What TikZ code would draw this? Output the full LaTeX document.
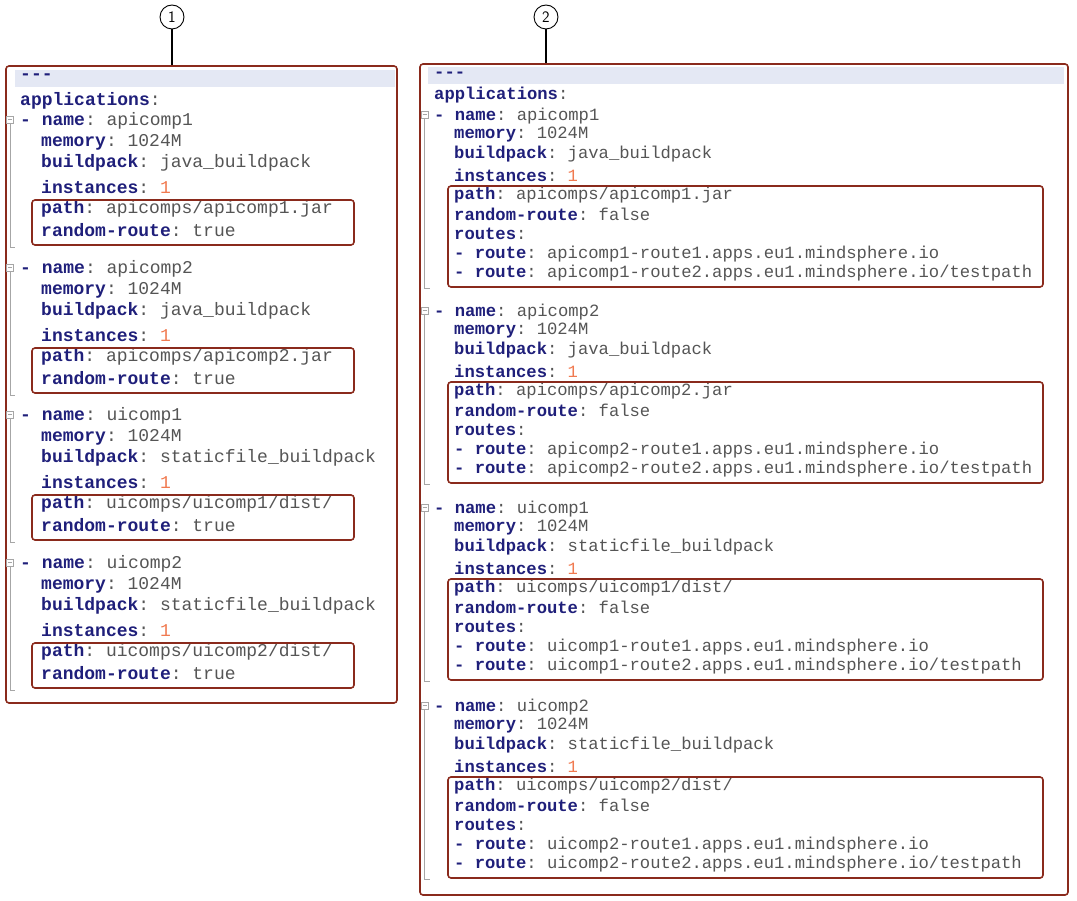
\documentclass[tikz,border=0pt]{standalone}
\usepackage{fontspec}
\setmonofont{Liberation Mono}
\definecolor{kc}{HTML}{1F1F7A}
\definecolor{vc}{HTML}{555555}
\definecolor{nc}{HTML}{F07A50}
\definecolor{bc}{HTML}{8A2A1C}
\definecolor{hb}{HTML}{E4E8F4}
\newcommand\K[1]{\textbf{\color{kc}#1}}
\newcommand\V[1]{{\color{vc}#1}}
\newcommand\N[1]{{\color{nc}#1}}
\newcommand\SL{/}
\tikzset{txt/.style={anchor=west,inner sep=0pt,font=\ttfamily\fontsize{18}{18}\selectfont,text=vc},
 txr/.style={txt,font=\ttfamily\fontsize{17.2}{17}\selectfont},
 frame/.style={draw=bc,line width=1.6pt,rounded corners=3pt},
 hl/.style={draw=bc,line width=1.6pt,rounded corners=3pt},
 marker/.style={draw,circle,line width=0.9pt,minimum size=24pt,inner sep=0pt,font=\sffamily\fontsize{16}{16}\selectfont},
 fold/.style={draw=gray!70,line width=0.6pt}}
\begin{document}
\begin{tikzpicture}[x=1pt,y=-1pt]
\useasboundingbox (0,0) rectangle (1077,901);
% markers
\node[marker] (m1) at (172,17) {1};
\node[marker] (m2) at (546,17) {2};
\coordinate (f1) at (172,66);
\coordinate (f2) at (546,64);
\draw[line width=1.2pt] (m1) -- (f1);
\draw[line width=1.2pt] (m2) -- (f2);
% left panel
\fill[hb] (15,70) rectangle (395,87);
\draw[frame] (6,66) rectangle (397,703);
\foreach \y in {121,269,416,564}{
 \draw[fold] (6.5,\y-5) rectangle (13.5,\y+2); \draw[fold] (8,\y-1.5)--(12,\y-1.5);
 \draw[fold] (10,\y+2)--(10,\y+126)--(15,\y+126);}
\node[txt] (l0) at (20,77) {\K{---}};
\node[txt] (l1) at (20,101) {\K{applications}:};
\foreach \y/\n/\b/\p in {121/apicomp1/java\_buildpack/apicomps\SL apicomp1.jar,269/apicomp2/java\_buildpack/apicomps\SL apicomp2.jar,416/uicomp1/staticfile\_buildpack/uicomps\SL uicomp1\SL dist\SL,564/uicomp2/staticfile\_buildpack/uicomps\SL uicomp2\SL dist\SL}{
 \node[txt] at (20,\y) {\K{- name}: \V{\n}};
 \node[txt] at (41,\y+21) {\K{memory}: 1024M};
 \node[txt] at (41,\y+42) {\K{buildpack}: \b};
 \node[txt] at (41,\y+66) {\K{instances}: \N{1}};
 \node[txt] at (41,\y+88) {\K{path}: \p};
 \node[txt] at (41,\y+109) {\K{random-route}: true};
 \draw[hl] (32,\y+79) rectangle (354,\y+124);
}
% right panel
\fill[hb] (428,67) rectangle (1064,84);
\draw[frame] (420,64) rectangle (1068,895);
\foreach \y in {116,312,509,707}{
 \draw[fold] (421,\y-5) rectangle (428,\y+2); \draw[fold] (422.5,\y-1.5)--(426.5,\y-1.5);
 \draw[fold] (424.5,\y+2)--(424.5,\y+172)--(430,\y+172);}
\node[txr] (r0) at (434,75) {\K{---}};
\node[txr] (r1) at (434,95) {\K{applications}:};
\foreach \y/\n/\b/\p in {116/apicomp1/java\_buildpack/apicomps\SL apicomp1.jar,312/apicomp2/java\_buildpack/apicomps\SL apicomp2.jar,509/uicomp1/staticfile\_buildpack/uicomps\SL uicomp1\SL dist\SL,707/uicomp2/staticfile\_buildpack/uicomps\SL uicomp2\SL dist\SL}{
 \node[txr] at (434,\y) {\K{- name}: \V{\n}};
 \node[txr] at (454,\y+19) {\K{memory}: 1024M};
 \node[txr] at (454,\y+38) {\K{buildpack}: \b};
 \node[txr] at (454,\y+59) {\K{instances}: \N{1}};
 \node[txr] at (454,\y+79) {\K{path}: \p};
 \node[txr] at (454,\y+98) {\K{random-route}: false};
 \node[txr] at (454,\y+118) {\K{routes}:};
 \node[txr] at (454,\y+138) {\K{- route}: \n-route1.apps.eu1.mindsphere.io};
 \node[txr] at (454,\y+157) {\K{- route}: \n-route2.apps.eu1.mindsphere.io/testpath};
 \draw[hl] (448,\y+70) rectangle (1043,\y+171);
}
\end{tikzpicture}
\end{document}
